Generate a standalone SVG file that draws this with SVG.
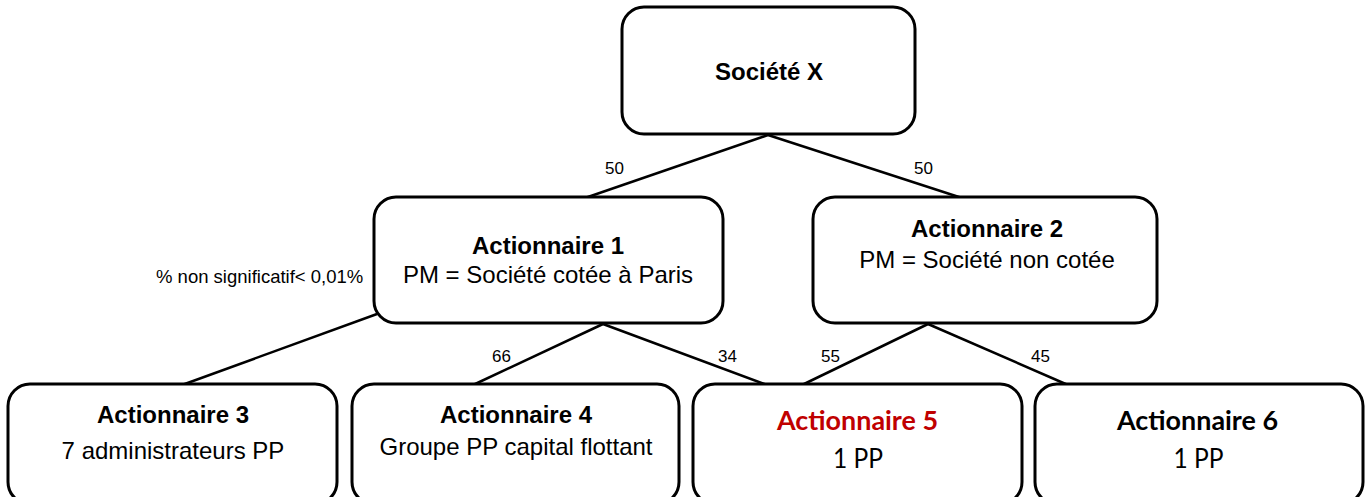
<svg xmlns="http://www.w3.org/2000/svg" width="1368" height="497" viewBox="0 0 1368 497">
  <style>
    .box { fill: #ffffff; stroke: #000000; stroke-width: 3; }
    .link { stroke: #000000; stroke-width: 2.5; fill: none; }
    .ar { font-family: "Liberation Sans", Arial, sans-serif; fill: #000000; text-anchor: middle; }
    .cal { font-family: Lato, "Open Sans", sans-serif; text-anchor: middle; }
    .title { font-size: 24px; font-weight: bold; }
    .sub { font-size: 24px; }
    .pct { font-family: "Liberation Sans", Arial, sans-serif; font-size: 17px; fill: #000000; }
    .note { font-size: 18.5px; }
    .red { fill: #c00000; }
    .blk { fill: #000000; }
  </style>
  <rect width="1368" height="497" fill="#ffffff"/>

  <!-- ownership links -->
  <g id="connectors">
    <line class="link" x1="768" y1="135" x2="585" y2="198"/>
    <line class="link" x1="768" y1="135" x2="962" y2="198"/>
    <line class="link" x1="377" y1="314" x2="182" y2="385"/>
    <line class="link" x1="603" y1="324" x2="473" y2="385"/>
    <line class="link" x1="603" y1="324" x2="767" y2="385"/>
    <line class="link" x1="928" y1="324" x2="802" y2="385"/>
    <line class="link" x1="928" y1="324" x2="1068" y2="385"/>
    <text class="pct" x="605" y="174">50</text>
    <text class="pct" x="914" y="174">50</text>
    <text class="pct" x="492" y="362">66</text>
    <text class="pct" x="718" y="362">34</text>
    <text class="pct" x="821" y="362">55</text>
    <text class="pct" x="1031" y="362">45</text>
    <text class="pct note" x="156" y="283">% non significatif&lt; 0,01%</text>
  </g>

  <g id="societe-x">
    <rect class="box" x="622" y="7" width="293" height="127" rx="22"/>
    <text class="ar title" x="769" y="80">Société X</text>
  </g>

  <g id="actionnaire-1">
    <rect class="box" x="374" y="197" width="349" height="126" rx="22"/>
    <text class="ar title" x="548" y="254">Actionnaire 1</text>
    <text class="ar sub" x="548" y="283">PM = Société cotée à Paris</text>
  </g>

  <g id="actionnaire-2">
    <rect class="box" x="813" y="197" width="344" height="126" rx="22"/>
    <text class="ar title" x="987" y="237">Actionnaire 2</text>
    <text class="ar sub" x="987" y="268">PM = Société non cotée</text>
  </g>

  <g id="actionnaire-3">
    <rect class="box" x="8" y="384" width="329" height="120" rx="22"/>
    <text class="ar title" x="173" y="423">Actionnaire 3</text>
    <text class="ar sub" x="173" y="459">7 administrateurs PP</text>
  </g>

  <g id="actionnaire-4">
    <rect class="box" x="352" y="384" width="327" height="120" rx="22"/>
    <text class="ar title" x="516" y="423">Actionnaire 4</text>
    <text class="ar sub" x="516" y="455">Groupe PP capital flottant</text>
  </g>

  <g id="actionnaire-5">
    <rect class="box" x="693" y="384" width="329" height="120" rx="22"/>
    <text class="cal red" x="857.5" y="430" font-size="26" font-weight="bold" textLength="161" lengthAdjust="spacingAndGlyphs">Actionnaire 5</text>
    <text class="cal blk" x="858" y="468" font-size="26" textLength="50" lengthAdjust="spacingAndGlyphs">1 PP</text>
  </g>

  <g id="actionnaire-6">
    <rect class="box" x="1035" y="384" width="328" height="120" rx="22"/>
    <text class="cal blk" x="1197.5" y="430" font-size="26" font-weight="bold" textLength="161" lengthAdjust="spacingAndGlyphs">Actionnaire 6</text>
    <text class="cal blk" x="1198.5" y="468" font-size="26" textLength="50" lengthAdjust="spacingAndGlyphs">1 PP</text>
  </g>
</svg>
